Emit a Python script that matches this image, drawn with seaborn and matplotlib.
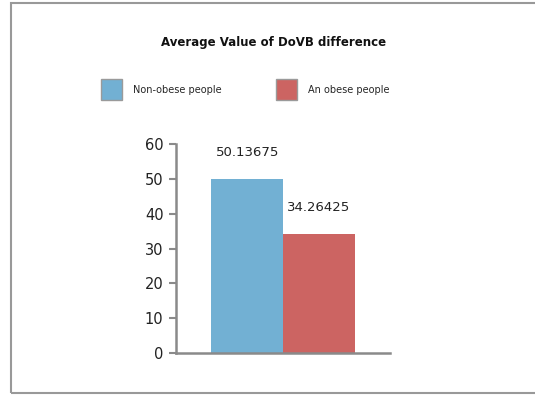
import matplotlib
matplotlib.use("Agg")
import matplotlib.pyplot as plt
from matplotlib.patches import Rectangle, Patch
import seaborn as sns
import pandas as pd

groups = ["Non-obese people", "An obese people"]
values = [50.13675, 34.26425]
value_labels = ["50.13675", "34.26425"]
colors = ["#72B0D3", "#CC6462"]
y_ticks = [0, 10, 20, 30, 40, 50, 60]
title = "Average Value of DoVB difference"

sns.set_theme(style="white")
plt.rcParams["font.family"] = ["DejaVu Sans"]

df = pd.DataFrame({"x": ["DoVB", "DoVB"], "group": groups, "value": values})

fig = plt.figure(figsize=(5.35, 3.95), dpi=100)
ax = fig.add_axes([0.329, 0.106, 0.400, 0.529])

sns.barplot(data=df, x="x", y="value", hue="group", hue_order=groups,
            palette=colors, width=0.67, saturation=1, ax=ax, legend=False,
            edgecolor="none")

ax.set_xlim(-0.5, 0.5)
ax.set_ylim(0, 60)
ax.set_yticks(y_ticks)
ax.set_xticks([])
ax.set_xlabel("")
ax.set_ylabel("")
ax.tick_params(axis="y", length=5, width=1.5, color="#8a8a8a",
               labelsize=10.5, labelcolor="#222222", pad=4, left=True)

for side in ["top", "right"]:
    ax.spines[side].set_visible(False)
for side in ["left", "bottom"]:
    ax.spines[side].set_color("#8a8a8a")
    ax.spines[side].set_linewidth(1.8)

for cont, lab in zip(ax.containers, value_labels):
    ax.bar_label(cont, labels=[lab], padding=14, fontsize=9.5, color="#222222")

fig.text(0.511, 0.893, title, ha="center", va="center", fontsize=8.5,
         fontweight="semibold", color="#111111")

handles = [Patch(facecolor=c, edgecolor="#9a9a9a", linewidth=1) for c in colors]
fig.legend(handles, groups, loc="center left", bbox_to_anchor=(0.172, 0.773),
           ncol=2, frameon=False, fontsize=7, handlelength=2.2,
           handleheight=3.0, handletextpad=1.1, columnspacing=5.6)

fig.patches.append(Rectangle((0.021, 0.006), 1.2, 0.986, transform=fig.transFigure,
                             fill=False, edgecolor="#999999", linewidth=1.5))

fig.savefig("out.png", dpi=100)
